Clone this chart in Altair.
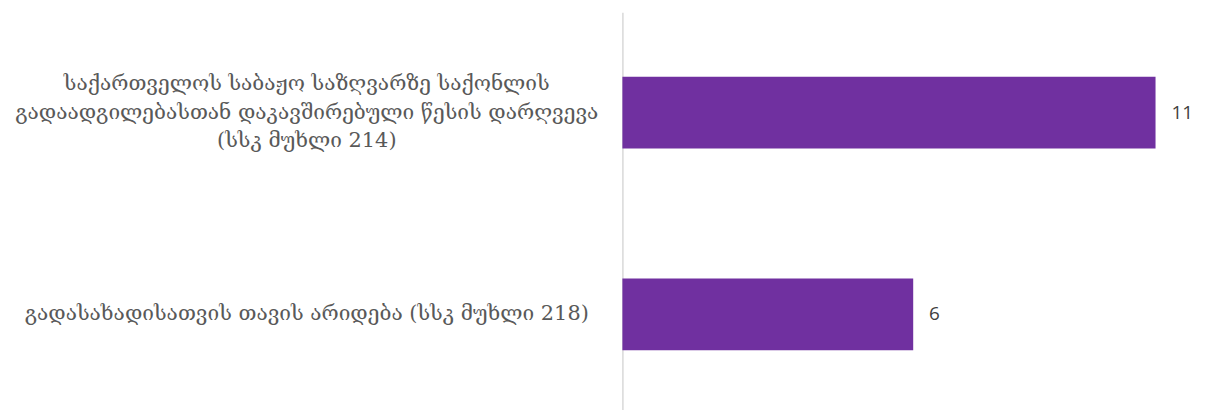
import altair as alt
import pandas as pd

categories = [
    "საქართველოს საბაჟო საზღვარზე საქონლის|გადაადგილებასთან დაკავშირებული წესის დარღვევა|(სსკ მუხლი 214)",
    "გადასახადისათვის თავის არიდება  (სსკ მუხლი 218)",
]
values = [11, 6]

df = pd.DataFrame({"category": categories, "value": values})

y_enc = alt.Y(
    "category:N",
    sort=None,
    title=None,
    scale=alt.Scale(paddingInner=0.645, paddingOuter=0.32),
    axis=alt.Axis(
        ticks=False,
        grid=False,
        domain=True,
        domainColor="#d9d9d9",
        domainWidth=1.5,
        labelAlign="center",
        labelBaseline="middle",
        labelPadding=318,
        labelFont="DejaVu Serif",
        labelFontSize=21,
        labelColor="#595959",
        labelLineHeight=29,
        labelLimit=0,
        labelOffset={"expr": "-(length(split(datum.label, '|')) - 1) * 14.5"},
        labelExpr="split(datum.label, '|')",
    ),
)
x_enc = alt.X("value:Q", axis=None, scale=alt.Scale(domain=[0, 12], nice=False))

bars = alt.Chart(df).mark_bar(color="#7030A0").encode(x=x_enc, y=y_enc)
text = alt.Chart(df).mark_text(
    align="left", baseline="middle", dx=16, font="Open Sans", fontSize=19, color="#404040"
).encode(x=x_enc, y=alt.Y("category:N", sort=None), text="value:Q")

chart = (
    alt.layer(bars, text)
    .properties(
        width=585,
        height=405,
        autosize=alt.AutoSizeParams(type="none"),
        padding={"left": 618, "top": 3, "right": 0, "bottom": 0},
    )
    .configure_view(stroke=None)
)

chart.save("out.html", embed_options={"renderer": "svg", "actions": False})
